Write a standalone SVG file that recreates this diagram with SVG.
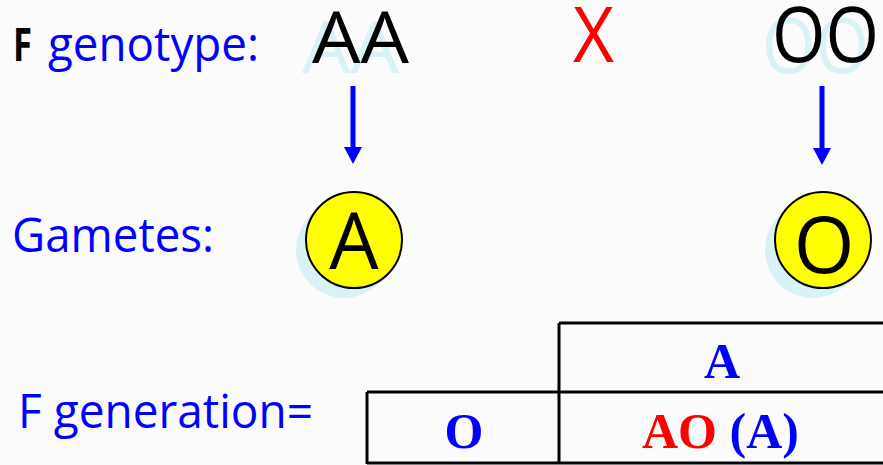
<svg xmlns="http://www.w3.org/2000/svg" width="883" height="465" viewBox="0 0 883 465">
  <defs>
    <style>
      .sans { font-family: "Open Sans", "Noto Sans", "Liberation Sans", sans-serif; }
      .serif { font-family: "Liberation Serif", "Times New Roman", serif; font-weight: bold; font-size: 50px; }
      .blue { fill: #0000ff; }
      .red { fill: #ff0000; }
      .black { fill: #000000; }
      .shadow { fill: #d9f2f7; }
      .label { font-size: 47px; }
      .big { font-size: 72px; }
      .gamete { fill: #ffff00; stroke: #000000; stroke-width: 2; }
      .arrow { stroke: #0000ff; stroke-width: 5; fill: none; }
      .grid { stroke: #000000; stroke-width: 3; fill: none; }
    </style>
    <!-- triangular head drawn along +x so orient="auto" points it down the line -->
    <marker id="head" viewBox="0 0 17 18" refX="1" refY="9" markerWidth="17" markerHeight="18" markerUnits="userSpaceOnUse" orient="auto">
      <path d="M0,0 L17,9 L0,18 Z" fill="#0000ff"/>
    </marker>
  </defs>

  <rect x="0" y="0" width="883" height="465" fill="#fbfbfb"/>

  <!-- parental genotype row -->
  <g id="genotype-label">
    <text class="sans black" x="13" y="61" font-size="47" font-weight="bold" textLength="19" lengthAdjust="spacingAndGlyphs">F</text>
    <text class="sans blue label" x="48" y="61" textLength="211" lengthAdjust="spacingAndGlyphs">genotype:</text>
  </g>

  <g id="parent-aa">
    <text class="sans shadow big" x="302" y="73" textLength="97" lengthAdjust="spacingAndGlyphs">AA</text>
    <text class="sans black big" x="312" y="63" textLength="97" lengthAdjust="spacingAndGlyphs">AA</text>
  </g>

  <g id="cross">
    <text class="sans red" x="573" y="62" font-size="77" textLength="41" lengthAdjust="spacingAndGlyphs">X</text>
  </g>

  <g id="parent-oo">
    <text class="sans shadow" x="762" y="73" font-size="77" textLength="107" lengthAdjust="spacingAndGlyphs">OO</text>
    <text class="sans black" x="772" y="62" font-size="77" textLength="107" lengthAdjust="spacingAndGlyphs">OO</text>
  </g>

  <!-- arrows from parents to gametes -->
  <g id="connectors">
    <line class="arrow" x1="353" y1="86" x2="353" y2="148" marker-end="url(#head)"/>
    <line class="arrow" x1="822" y1="86" x2="822" y2="149" marker-end="url(#head)"/>
  </g>

  <!-- gametes row -->
  <g id="gametes-label">
    <text class="sans blue label" x="12" y="252" textLength="202" lengthAdjust="spacingAndGlyphs">Gametes:</text>
  </g>

  <g id="gamete-a">
    <circle class="shadow" cx="344" cy="250" r="48"/>
    <circle class="gamete" cx="354" cy="240" r="48"/>
    <text class="sans black" x="354" y="269" font-size="78" text-anchor="middle">A</text>
  </g>

  <g id="gamete-o">
    <circle class="shadow" cx="813" cy="250" r="48"/>
    <circle class="gamete" cx="823" cy="240" r="48"/>
    <text class="sans black" x="824" y="273" font-size="78" text-anchor="middle">O</text>
  </g>

  <!-- offspring -->
  <g id="generation-label">
    <text class="sans blue label" x="18" y="428" textLength="295" lengthAdjust="spacingAndGlyphs">F generation=</text>
  </g>

  <g id="punnett">
    <path class="grid" d="M559,323 H885 M367,392 H885 M367,463 H885 M367,392 V464 M559,323 V464"/>
    <text class="serif blue" x="722" y="378" text-anchor="middle">A</text>
    <text class="serif blue" x="464" y="448" text-anchor="middle">O</text>
    <text class="serif" x="642" y="448"><tspan class="red">AO</tspan><tspan class="blue"> (A)</tspan></text>
  </g>
</svg>
